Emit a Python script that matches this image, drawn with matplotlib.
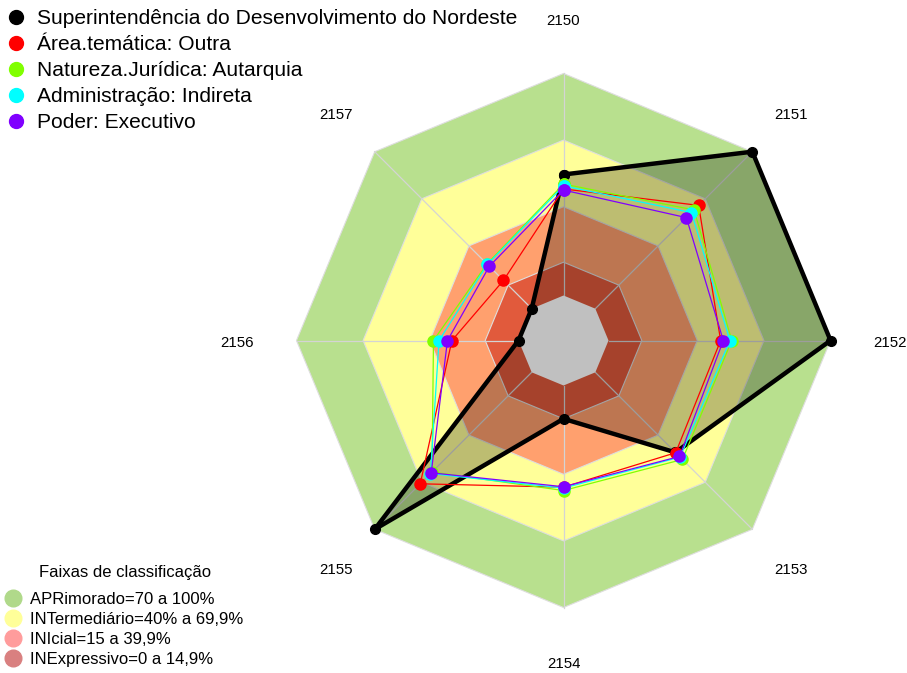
import numpy as np
import matplotlib
matplotlib.use('Agg')
import matplotlib.pyplot as plt
from matplotlib.lines import Line2D

# ---------------- data ----------------
axis_labels = ['2150', '2151', '2152', '2153', '2154', '2155', '2156', '2157']

series_names = ['Superintendência do Desenvolvimento do Nordeste',
                'Área.temática: Outra',
                'Natureza.Jurídica: Autarquia',
                'Administração: Indireta',
                'Poder: Executivo']
sudene = [54.5, 100, 100, 51, 15, 100, 0, 0]
area_outra = [48, 65.8, 50.5, 51.2, 45.8, 71, 30, 18]
natureza_autarquia = [50.2, 62.9, 55.5, 55.5, 47.3, 63.5, 38.3, 28.5]
administracao_indireta = [49.4, 61.2, 54.7, 54, 46.2, 64.5, 35.8, 28.2]
poder_executivo = [47.5, 58, 51.7, 53.6, 45.6, 64, 32, 27]
series_colors = ['#000000', '#ff0000', '#80ff00', '#00ffff', '#8000ff']

band_levels = [100, 70, 40, 15]
band_colors = ['#b8e08e', '#ffff99', '#ffa06e', '#e15a3c']
band_title = 'Faixas de classificação'
band_labels = ['APRimorado=70 a 100%', 'INTermediário=40% a 69,9%',
               'INIcial=15 a 39,9%', 'INExpressivo=0 a 14,9%']
band_legend_colors = ['#b0d98a', '#ffff99', '#ff9c9c', '#d98080']

# ---------------- figure ----------------
plt.rcParams['font.family'] = ['Liberation Sans', 'DejaVu Sans']
fig = plt.figure(figsize=(9.07, 6.73), dpi=100)
ax = fig.add_axes([0.3269, 0.0973, 0.5888, 0.7935], projection='polar')
ax.set_theta_zero_location('N')
ax.set_theta_direction(-1)
ax.set_ylim(0, 100)
ax.set_rorigin(-20.27)
ax.axis('off')

n = len(axis_labels)
theta = np.linspace(0, 2 * np.pi, n, endpoint=False)
tc = np.append(theta, theta[0])

def closed(v):
    return np.append(v, v[0])

# bands
for lvl, col in zip(band_levels, band_colors):
    ax.fill(tc, [lvl] * (n + 1), facecolor=col, edgecolor='#dedede',
            lw=0.8, zorder=1, clip_on=False)

# radial grid
for t in theta:
    ax.plot([t, t], [0, 100], color='#d4d4d4', lw=0.9, zorder=2, clip_on=False)

# black series fill
ax.fill(tc, closed(sudene), facecolor='black', alpha=0.26, lw=0, zorder=3,
        clip_on=False)

# grey centre
ax.fill(tc, [0] * (n + 1), facecolor='#c0c0c0', lw=0, zorder=4, clip_on=False)

# series
ax.plot(tc, closed(sudene), color='black', lw=3.2, marker='o', ms=7,
        zorder=5, clip_on=False)
others = [area_outra, natureza_autarquia, administracao_indireta, poder_executivo]
for i, (vals, col) in enumerate(zip(others, series_colors[1:])):
    ax.plot(tc, closed(vals), color=col, lw=0.9, marker='o', ms=8,
            zorder=6 + i, clip_on=False)

# axis labels
label_r = 124.7 + 2.1 * np.abs(np.sin(theta)) ** 8
for t, rr, lbl in zip(theta, label_r, axis_labels):
    ax.annotate(lbl, xy=(t, rr), xytext=(0, -1.5), textcoords='offset points',
                ha='center', va='center', fontsize=10.8, annotation_clip=False)

# top legend
handles = [Line2D([], [], marker='o', ls='', color=c, markersize=10)
           for c in series_colors]
fig.legend(handles, series_names, loc='upper left',
           bbox_to_anchor=(-2 / 907, 1.0),
           frameon=False, fontsize=15.1, handletextpad=0.6, labelspacing=0.33,
           borderaxespad=0.15, handlelength=0.8, borderpad=0.3)

# bottom legend
bh = [Line2D([], [], marker='o', ls='', color=c, markersize=12)
      for c in band_legend_colors]
fig.legend(bh, band_labels, loc='lower left',
           bbox_to_anchor=(-1 / 907, -3 / 673),
           frameon=False, fontsize=12, handletextpad=0.72, labelspacing=0.3,
           borderaxespad=0.0, handlelength=0.6, borderpad=0.55)
fig.text(125 / 907, 1 - 572 / 673, band_title, ha='center', va='center',
         fontsize=12)

fig.savefig('out.png', dpi=100)
